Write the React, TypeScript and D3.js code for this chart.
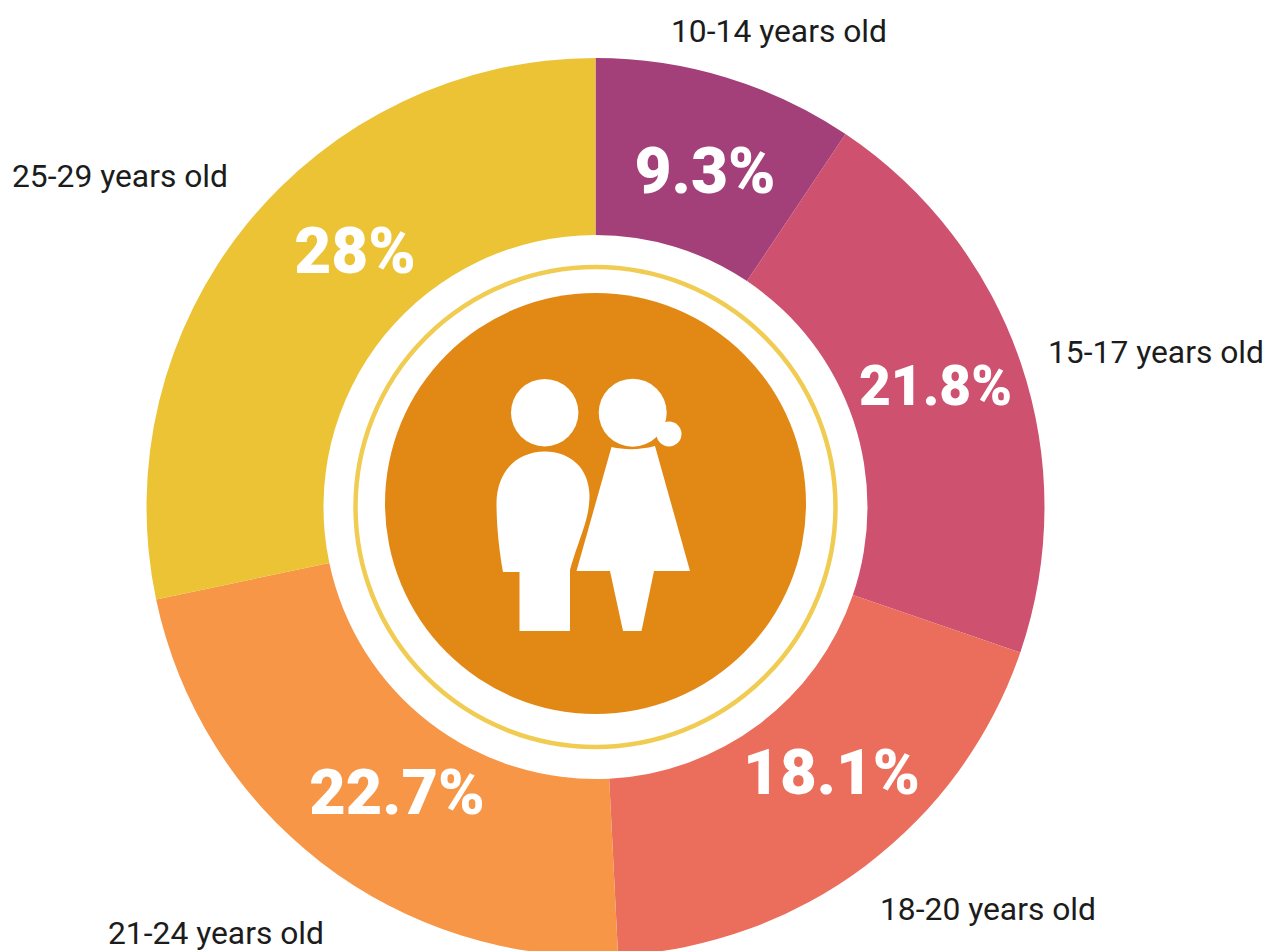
import React from 'react';
import * as d3 from 'd3';

const ageGroups = ['10-14 years old', '15-17 years old', '18-20 years old', '21-24 years old', '25-29 years old'];
const printedShares = ['9.3%', '21.8%', '18.1%', '22.7%', '28%'];
// slice sizes as drawn in the picture (the 15-17 slice is drawn a bit smaller than printed)
const drawnShares = [9.4, 20.85, 18.95, 22.5, 28.3];
const sliceColors = ['#A34079', '#CE5170', '#EB6E5C', '#F69646', '#EBC335'];

const width = 1267;
const height = 951;
const cx = 595.5;
const cy = 507;
const outerRadius = 449;
const innerRadius = 272;

const percentSpots = [
  { x: 705, y: 193, size: 64 },
  { x: 935.5, y: 405, size: 55 },
  { x: 831.5, y: 794, size: 63.5 },
  { x: 397, y: 814, size: 63 },
  { x: 355, y: 273, size: 64 },
];
const nameSpots = [
  { x: 671, y: 42 },
  { x: 1048, y: 363 },
  { x: 880, y: 920 },
  { x: 108, y: 944 },
  { x: 12, y: 187 },
];

const font = 'Roboto, sans-serif';

export default function App() {
  const slices = d3.pie<number>().sort(null).value((d) => d)(drawnShares);
  const arc = d3.arc<d3.PieArcDatum<number>>().innerRadius(innerRadius).outerRadius(outerRadius);

  return (
    <svg
      width={width}
      height={height}
      viewBox={`0 0 ${width} ${height}`}
      style={{ position: 'absolute', left: 0, top: 0, background: '#fff' }}
    >
      <g transform={`translate(${cx},${cy})`}>
        {slices.map((s, i) => (
          <path key={ageGroups[i]} d={arc(s) ?? ''} fill={sliceColors[i]} />
        ))}
        <circle r={240} fill="none" stroke="#F1CC53" strokeWidth={4.5} />
      </g>
      <circle cx={595.5} cy={503.5} r={210.5} fill="#E28815" />

      {/* couple icon */}
      <g fill="#fff">
        <circle cx={544.7} cy={412.7} r={33.7} />
        <path d="M519.5 631 L570 631 L570 570 C580 535 589.5 520 589.5 495 C589 468 570 451.5 545 451.5 C518 451.5 497 470 496.5 503 C496.5 525 499 550 503 572 L519.5 572 Z" />
        <path d="M611.5 447 C625 450 640 450 655 446 L690 571 L654 571 L641.5 631 L623 631 L610 571 L576.5 571 Z" />
        <circle cx={632.7} cy={412.7} r={36} fill="#E28815" />
        <circle cx={632.7} cy={412.7} r={34} />
        <circle cx={669} cy={434} r={12.5} />
      </g>

      {printedShares.map((t, i) => (
        <text
          key={t}
          x={percentSpots[i].x}
          y={percentSpots[i].y}
          textAnchor="middle"
          fontFamily={font}
          fontWeight={900}
          fontSize={percentSpots[i].size}
          fill="#fff"
        >
          {t}
        </text>
      ))}
      {ageGroups.map((t, i) => (
        <text key={t} x={nameSpots[i].x} y={nameSpots[i].y} fontFamily={font} fontSize={31.8} fill="#1c1c1c">
          {t}
        </text>
      ))}
    </svg>
  );
}
